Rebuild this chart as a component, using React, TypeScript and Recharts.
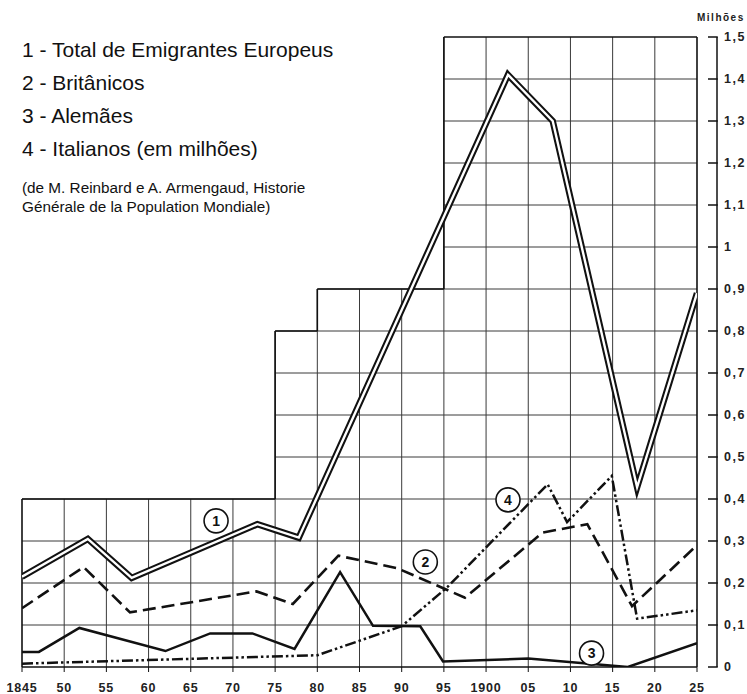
import React from 'react';
import { LineChart, Line, XAxis, YAxis, ReferenceLine, ReferenceDot } from 'recharts';

// ---- axis ticks ----
const tickYears = [1845, 1850, 1855, 1860, 1865, 1870, 1875, 1880, 1885, 1890, 1895, 1900, 1905, 1910, 1915, 1920, 1925];
const tickLabels = ['1845', '50', '55', '60', '65', '70', '75', '80', '85', '90', '95', '1900', '05', '10', '15', '20', '25'];
const yTicks = [0, 0.1, 0.2, 0.3, 0.4, 0.5, 0.6, 0.7, 0.8, 0.9, 1, 1.1, 1.2, 1.3, 1.4, 1.5];
const yTickLabels = ['0', '0,1', '0,2', '0,3', '0,4', '0,5', '0,6', '0,7', '0,8', '0,9', '1', '1,1', '1,2', '1,3', '1,4', '1,5'];

// ---- stepped grid outline (years and top values) ----
const stepEdges = [1845, 1875, 1880, 1895, 1925];
const stepTops = [0.4, 0.8, 0.9, 1.5];

// ---- series ----
const totalYears = [1845, 1852.8, 1858, 1872.9, 1877.8, 1902.6, 1907.9, 1917.9, 1925];
const totalValues = [0.215, 0.305, 0.212, 0.34, 0.308, 1.41, 1.3, 0.428, 0.89];

const britYears = [1845, 1852.3, 1857.8, 1872.8, 1877.1, 1882.5, 1889.5, 1897.5, 1906.7, 1912, 1917.3, 1925];
const britValues = [0.14, 0.238, 0.13, 0.18, 0.15, 0.265, 0.235, 0.165, 0.32, 0.34, 0.145, 0.29];

const alemYears = [1845, 1847, 1851.8, 1862, 1867.3, 1872.3, 1877.3, 1882.7, 1886.6, 1892.2, 1894.9, 1905, 1916.8, 1925];
const alemValues = [0.036, 0.036, 0.093, 0.038, 0.08, 0.08, 0.043, 0.226, 0.098, 0.097, 0.013, 0.02, 0.0, 0.057];

const italYears = [1845, 1880, 1890, 1895.4, 1907.3, 1909.6, 1914.9, 1917.9, 1925];
const italValues = [0.008, 0.028, 0.097, 0.19, 0.435, 0.345, 0.455, 0.115, 0.135];

// ---- circled series numbers ----
const markNumbers = ['1', '2', '3', '4'];
const markYears = [1868, 1892.8, 1912.5, 1902.6];
const markValues = [0.348, 0.25, 0.033, 0.398];

// ---- texts ----
const legendLines = [
  '1 - Total de Emigrantes Europeus',
  '2 - Britânicos',
  '3 - Alemães',
  '4 - Italianos (em milhões)',
];
const sourceLines = [
  '(de M. Reinbard e A. Armengaud, Historie',
  'Générale de la Population Mondiale)',
];
const unitLabel = 'Milhões';

const toData = (xs: number[], vs: number[]) => xs.map((x, i) => ({ year: x, v: vs[i] }));
const totalData = toData(totalYears, totalValues);
const britData = toData(britYears, britValues);
const alemData = toData(alemYears, alemValues);
const italData = toData(italYears, italValues);

// grid segments built from step arrays
const topAt = (yr: number) => {
  let t = 0;
  for (let i = 0; i < stepTops.length; i++) {
    if (stepEdges[i] <= yr && yr <= stepEdges[i + 1]) t = Math.max(t, stepTops[i]);
  }
  return t;
};
const vGrid = tickYears.slice(1, -1).map((yr) => [{ x: yr, y: 0 }, { x: yr, y: topAt(yr) }]);
const hGrid = yTicks
  .filter((v) => v > 0 && v < 1.5)
  .map((v) => {
    const i = stepTops.findIndex((t) => t >= v - 1e-9);
    return [{ x: stepEdges[i], y: v }, { x: stepEdges[stepEdges.length - 1], y: v }];
  });
const outlinePts: { x: number; y: number }[] = [{ x: stepEdges[0], y: 0 }];
stepTops.forEach((t, i) => {
  outlinePts.push({ x: stepEdges[i], y: t });
  outlinePts.push({ x: stepEdges[i + 1], y: t });
});
outlinePts.push({ x: stepEdges[stepEdges.length - 1], y: 0 });
const outlineSegs = outlinePts.slice(1).map((p, i) => [outlinePts[i], p]);

const FONT = '"Liberation Sans", Arial, sans-serif';
const INK = '#111';

let prevTickY: number | null = null;
const RightTick = (props: any) => {
  const { x, y, index, payload } = props;
  const ax = x + 20;
  const i = yTicks.indexOf(payload.value);
  const label = i >= 0 ? yTickLabels[i] : String(payload.value);
  const seg = index > 0 && prevTickY !== null ? (
    <line x1={ax} x2={ax} y1={prevTickY} y2={y} stroke={INK} strokeWidth={1.5} />
  ) : null;
  prevTickY = y;
  return (
    <g>
      {seg}
      <line x1={ax - 9} x2={ax + 0.75} y1={y} y2={y} stroke={INK} strokeWidth={1.5} />
      <text
        x={ax + 7}
        y={y}
        dominantBaseline="central"
        textAnchor="start"
        fontFamily={FONT}
        fontWeight="bold"
        fontSize={12.5}
        letterSpacing={1.5}
        fill="#222"
      >
        {label}
      </text>
    </g>
  );
};

const BottomTick = (props: any) => {
  const { x, y, payload } = props;
  const i = tickYears.indexOf(payload.value);
  const label = i >= 0 ? tickLabels[i] : String(payload.value);
  return (
    <text
      x={x}
      y={y + 20}
      textAnchor="middle"
      fontFamily={FONT}
      fontWeight="bold"
      fontSize={12.5}
      letterSpacing={0.8}
      fill="#222"
    >
      {label}
    </text>
  );
};

export default function App() {
  prevTickY = null;
  return (
    <div style={{ position: 'absolute', left: 0, top: 0, width: 747, height: 694, background: '#fff' }}>
      <LineChart width={747} height={694} margin={{ top: 37, left: 22, right: 0, bottom: 0 }}>
        <XAxis
          dataKey="year"
          type="number"
          domain={[1845, 1925]}
          ticks={tickYears}
          interval={0}
          height={27}
          axisLine={{ stroke: INK, strokeWidth: 1.5 }}
          tickLine={{ stroke: INK, strokeWidth: 1 }}
          tickSize={5}
          tickMargin={0}
          tick={BottomTick}
          allowDataOverflow
        />
        <YAxis
          orientation="right"
          width={50}
          domain={[0, 1.5]}
          ticks={yTicks}
          interval={0}
          axisLine={false}
          tickLine={false}
          tickSize={0}
          tickMargin={0}
          tick={RightTick}
          allowDataOverflow
        />
        {vGrid.map((s, i) => (
          <ReferenceLine key={'v' + i} segment={s} stroke="#3a3a3a" strokeWidth={1} ifOverflow="visible" />
        ))}
        {hGrid.map((s, i) => (
          <ReferenceLine key={'h' + i} segment={s} stroke="#3a3a3a" strokeWidth={1} ifOverflow="visible" />
        ))}
        {outlineSegs.map((s, i) => (
          <ReferenceLine key={'o' + i} segment={s} stroke={INK} strokeWidth={1.6} ifOverflow="visible" />
        ))}
        <Line
          data={italData}
          dataKey="v"
          type="linear"
          stroke={INK}
          strokeWidth={2.5}
          strokeDasharray="11 3 2.5 3 2.5 3"
          dot={false}
          isAnimationActive={false}
        />
        <Line
          data={alemData}
          dataKey="v"
          type="linear"
          stroke={INK}
          strokeWidth={2.5}
          dot={false}
          isAnimationActive={false}
        />
        <Line
          data={britData}
          dataKey="v"
          type="linear"
          stroke={INK}
          strokeWidth={2.6}
          strokeDasharray="13 6"
          dot={false}
          isAnimationActive={false}
        />
        <Line
          data={totalData}
          dataKey="v"
          type="linear"
          stroke={INK}
          strokeWidth={6.5}
          strokeLinejoin="miter"
          strokeMiterlimit={10}
          dot={false}
          isAnimationActive={false}
        />
        <Line
          data={totalData}
          dataKey="v"
          type="linear"
          stroke="#fff"
          strokeWidth={2.4}
          strokeLinejoin="miter"
          strokeMiterlimit={10}
          dot={false}
          isAnimationActive={false}
        />
        {markNumbers.map((n, i) => (
          <ReferenceDot
            key={'m' + n}
            x={markYears[i]}
            y={markValues[i]}
            r={12}
            fill="#fff"
            stroke={INK}
            strokeWidth={1.6}
            ifOverflow="visible"
            label={{ value: n, position: 'center', fill: INK, fontSize: 14, fontWeight: 'bold', fontFamily: FONT }}
          />
        ))}
      </LineChart>
      <svg
        width={747}
        height={694}
        style={{ position: 'absolute', left: 0, top: 0, pointerEvents: 'none' }}
      >
        {legendLines.map((t, i) => (
          <text key={'l' + i} x={22} y={57 + 33 * i} fontFamily={FONT} fontSize={21} fill={INK}>
            {t}
          </text>
        ))}
        {sourceLines.map((t, i) => (
          <text key={'s' + i} x={22} y={193 + 19 * i} fontFamily={FONT} fontSize={15.3} fill={INK}>
            {t}
          </text>
        ))}
        <text x={697} y={21} fontFamily={FONT} fontWeight="bold" fontSize={10} letterSpacing={1.5} fill="#222">
          {unitLabel}
        </text>
      </svg>
    </div>
  );
}
